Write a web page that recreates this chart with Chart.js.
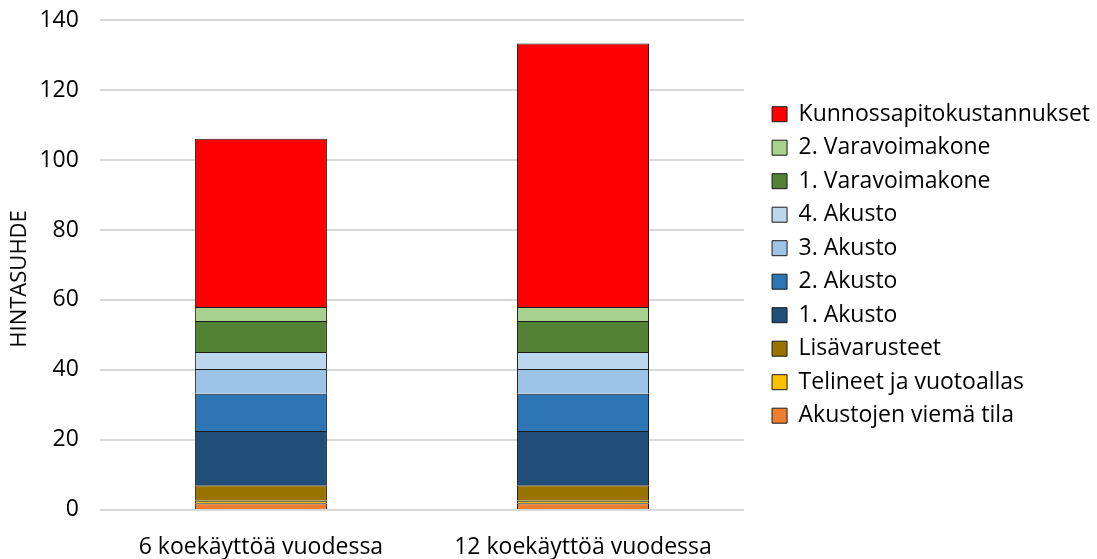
<!DOCTYPE html>
<html><head><meta charset="utf-8">
<script src="https://cdn.jsdelivr.net/npm/chart.js@4"></script>
<style>html,body{margin:0;padding:0;background:#fff}#wrap{width:1097px;height:559px;position:relative}</style>
</head><body><div id="wrap"><canvas id="c" width="1097" height="559"></canvas></div>
<script>
const categories = ["6 koekäyttöä vuodessa", "12 koekäyttöä vuodessa"];
const akustojenViemaTila = [1.9, 1.9];
const telineetJaVuotoallas = [0.75, 0.75];
const lisavarusteet = [4.4, 4.4];
const akusto1 = [15.5, 15.5];
const akusto2 = [10.65, 10.65];
const akusto3 = [7.05, 7.05];
const akusto4 = [4.85, 4.85];
const varavoimakone1 = [8.9, 8.9];
const varavoimakone2 = [4.0, 4.0];
const kunnossapitokustannukset = [48.1, 75.3];
const yTicks = [0, 20, 40, 60, 80, 100, 120, 140];

const font = "'Open Sans', 'Liberation Sans', sans-serif";
const GAP = 17.5;
const TITLE_SHIFT = 14;
const mk = (label, data, color) => ({label, data, backgroundColor: color, borderColor: '#1a1a1a', borderWidth: 1, barPercentage: 0.41, categoryPercentage: 1});

const layoutTweaks = {
  id: 'layoutTweaks',
  beforeLayout(chart) {
    const lg = chart.legend;
    if (lg && !lg._gapWrapped) {
      const f = lg.fit;
      lg.fit = function () { f.call(this); this.width += GAP; };
      lg._gapWrapped = true;
    }
  },
  afterLayout(chart) {
    const lg = chart.legend;
    if (lg) {
      lg.left += GAP;
      const ca = chart.chartArea;
      const d = (lg.top + lg.bottom) / 2 - (ca.top + ca.bottom) / 2;
      lg.top -= d; lg.bottom -= d;
    }
    const s = chart.scales.y;
    if (s && !s._titleWrapped) {
      const dt = s.drawTitle;
      s.drawTitle = function () {
        const ctx = this.ctx; ctx.save(); ctx.translate(0, TITLE_SHIFT); dt.call(this); ctx.restore();
      };
      s._titleWrapped = true;
    }
  }
};

function draw() {
new Chart(document.getElementById('c'), {
  type: 'bar',
  data: {
    labels: categories,
    datasets: [
      mk('Akustojen viemä tila', akustojenViemaTila, '#ED7D31'),
      mk('Telineet ja vuotoallas', telineetJaVuotoallas, '#FFC000'),
      mk('Lisävarusteet', lisavarusteet, '#997300'),
      mk('1. Akusto', akusto1, '#1F4E79'),
      mk('2. Akusto', akusto2, '#2E75B6'),
      mk('3. Akusto', akusto3, '#9DC3E6'),
      mk('4. Akusto', akusto4, '#BDD7EE'),
      mk('1. Varavoimakone', varavoimakone1, '#548235'),
      mk('2. Varavoimakone', varavoimakone2, '#A9D18E'),
      mk('Kunnossapitokustannukset', kunnossapitokustannukset, '#FF0000')
    ]
  },
  plugins: [layoutTweaks],
  options: {
    responsive: false,
    animation: false,
    layout: {padding: {top: 20, bottom: -2, left: 7, right: -3}},
    plugins: {
      tooltip: {enabled: false},
      legend: {
        position: 'right',
        reverse: true,
        maxWidth: 420,
        labels: {
          boxWidth: 15, boxHeight: 15, padding: 10.5,
          color: '#000',
          font: {family: font, size: 23}
        }
      }
    },
    scales: {
      x: {
        stacked: true,
        grid: {display: true, drawOnChartArea: false, drawTicks: true, tickLength: 23.5, tickColor: 'rgba(0,0,0,0)'},
        border: {display: false},
        ticks: {color: '#000', padding: 0, font: {family: font, size: 23}}
      },
      y: {
        stacked: true,
        min: 0, max: 140,
        afterBuildTicks: ax => { ax.ticks = yTicks.map(v => ({value: v})); },
        grid: {color: '#D9D9D9', lineWidth: 2, drawTicks: true, tickLength: 21, tickColor: 'rgba(0,0,0,0)'},
        border: {display: false},
        ticks: {color: '#000', padding: 0, font: {family: font, size: 23}},
        title: {display: true, text: 'HINTASUHDE', color: '#000', font: {family: font, size: 22}, padding: {top: 0, bottom: 6}}
      }
    }
  }
});
}
Promise.all([
  document.fonts.load("23px 'Open Sans'"),
  document.fonts.load("22px 'Open Sans'")
]).then(draw, draw);
</script></body></html>
